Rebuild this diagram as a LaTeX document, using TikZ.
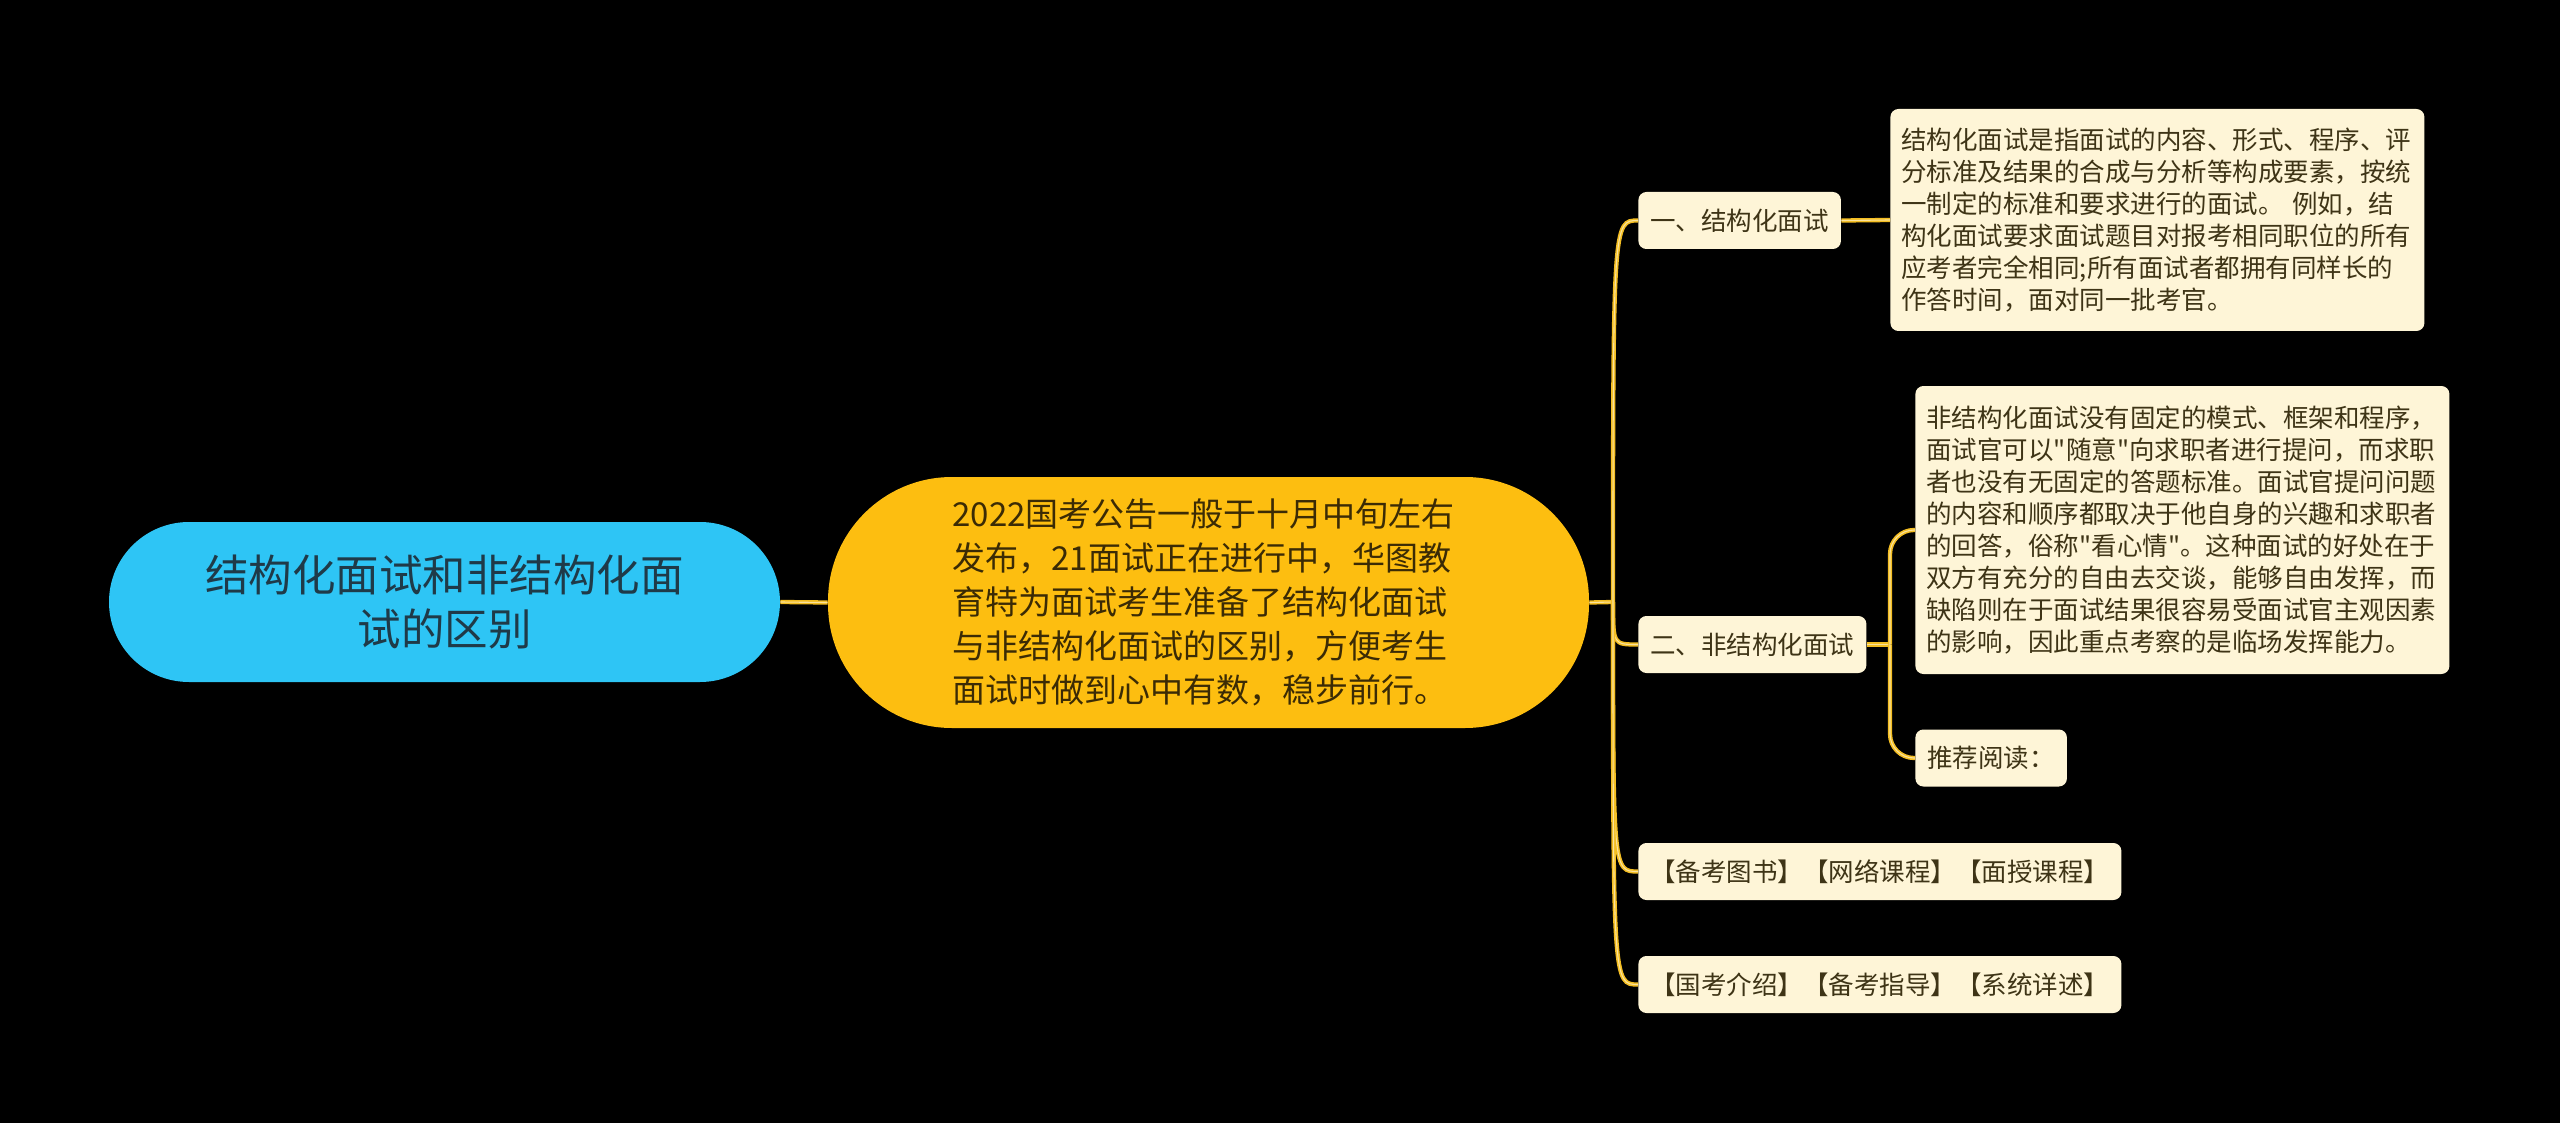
\documentclass[tikz,border=0pt]{standalone}
\usepackage{fontspec}
\newfontfamily\cjk{Noto Sans CJK SC}
\usepackage{xcolor}
\definecolor{sky}{RGB}{46,197,245}
\definecolor{gold}{RGB}{253,190,16}
\definecolor{cream}{RGB}{254,245,215}
\definecolor{wire}{RGB}{244,190,34}
\definecolor{slate}{RGB}{31,58,72}
\definecolor{bark}{RGB}{59,43,5}
\definecolor{umber}{RGB}{62,52,22}
\usepackage{tikz}
\usetikzlibrary{calc}
\tikzset{
  %% Pill for the title on the left
  rootbox/.style={fill=sky, text=slate, rounded corners=40pt,
    minimum width=335.5pt, minimum height=80pt, inner sep=0pt,
    text width=260pt, align=center,
    font=\cjk\fontsize{21.75pt}{27pt}\selectfont},
  %% Pill for the summary in the middle
  hubbox/.style={fill=gold, text=bark, rounded corners=62pt,
    minimum width=380.5pt, minimum height=125.5pt, inner sep=0pt,
    text width=256pt, align=left,
    font=\cjk\fontsize{16.5pt}{22pt}\selectfont},
  %% Small cream labels
  leafbox/.style={fill=cream, text=umber, rounded corners=4pt,
    inner xsep=6pt, inner ysep=0pt, minimum height=28.5pt, anchor=west,
    font=\cjk\fontsize{12.75pt}{16pt}\selectfont},
  %% Cream text blocks
  notebox/.style={leafbox, inner xsep=5.5pt, text width=256pt, align=left},
  link/.style={draw=wire, line width=0.8pt, double=wire!45!white,
    double distance=0.55pt},
}

\begin{document}
\begin{tikzpicture}[x=0.5pt, y=-0.5pt]
\fill[black] (0,0) rectangle (2560,1123);
\useasboundingbox (0,0) rectangle (2560,1123);

%% main nodes
\node[rootbox] (root) at (444.5,602) {结构化面试和非结构化面\\试的区别};
\node[hubbox] (hub) at (1208.5,602.5) {2022国考公告一般于十月中旬左右\\
  发布，21面试正在进行中，华图教\\
  育特为面试考生准备了结构化面试\\
  与非结构化面试的区别，方便考生\\
  面试时做到心中有数，稳步前行。};

%% first level
\node[leafbox] (one) at (1638,220.5) {一、结构化面试};
\node[leafbox] (two) at (1638,644.5) {二、非结构化面试};
\node[leafbox] (books) at (1638,871.5) {【备考图书】【网络课程】【面授课程】};
\node[leafbox] (intro) at (1638,984.5) {【国考介绍】【备考指导】【系统详述】};

%% second level
\node[notebox, minimum height=111pt] (onetext) at (1890,220) {%
  结构化面试是指面试的内容、形式、程序、评\\
  分标准及结果的合成与分析等构成要素，按统\\
  一制定的标准和要求进行的面试。 例如，结\\
  构化面试要求面试题目对报考相同职位的所有\\
  应考者完全相同;所有面试者都拥有同样长的\\
  作答时间，面对同一批考官。};
\node[notebox, minimum height=144pt] (twotext) at (1915,530) {%
  非结构化面试没有固定的模式、框架和程序，\\
  面试官可以"随意"向求职者进行提问，而求职\\
  者也没有无固定的答题标准。面试官提问问题\\
  的内容和顺序都取决于他自身的兴趣和求职者\\
  的回答，俗称"看心情"。这种面试的好处在于\\
  双方有充分的自由去交谈，能够自由发挥，而\\
  缺陷则在于面试结果很容易受面试官主观因素\\
  的影响，因此重点考察的是临场发挥能力。};
\node[leafbox] (read) at (1915,758) {推荐阅读：};

%% connectors
\coordinate (fork) at (1613,602);
\coordinate (fork2) at (1890,644.5);
\draw[link] (root.east) -- (hub.west);
\draw[link] (hub.east) -- (fork);
\foreach \leaf in {one,two,books,intro}
  \draw[link] (fork) .. controls (fork |- \leaf.west) .. (\leaf.west);
\draw[link] (one.east) -- (onetext.west);
\draw[link] (two.east) -- (fork2);
\draw[link, rounded corners=12pt] (fork2) |- (twotext.west);
\draw[link, rounded corners=12pt] (fork2) |- (read.west);
\end{tikzpicture}
\end{document}
